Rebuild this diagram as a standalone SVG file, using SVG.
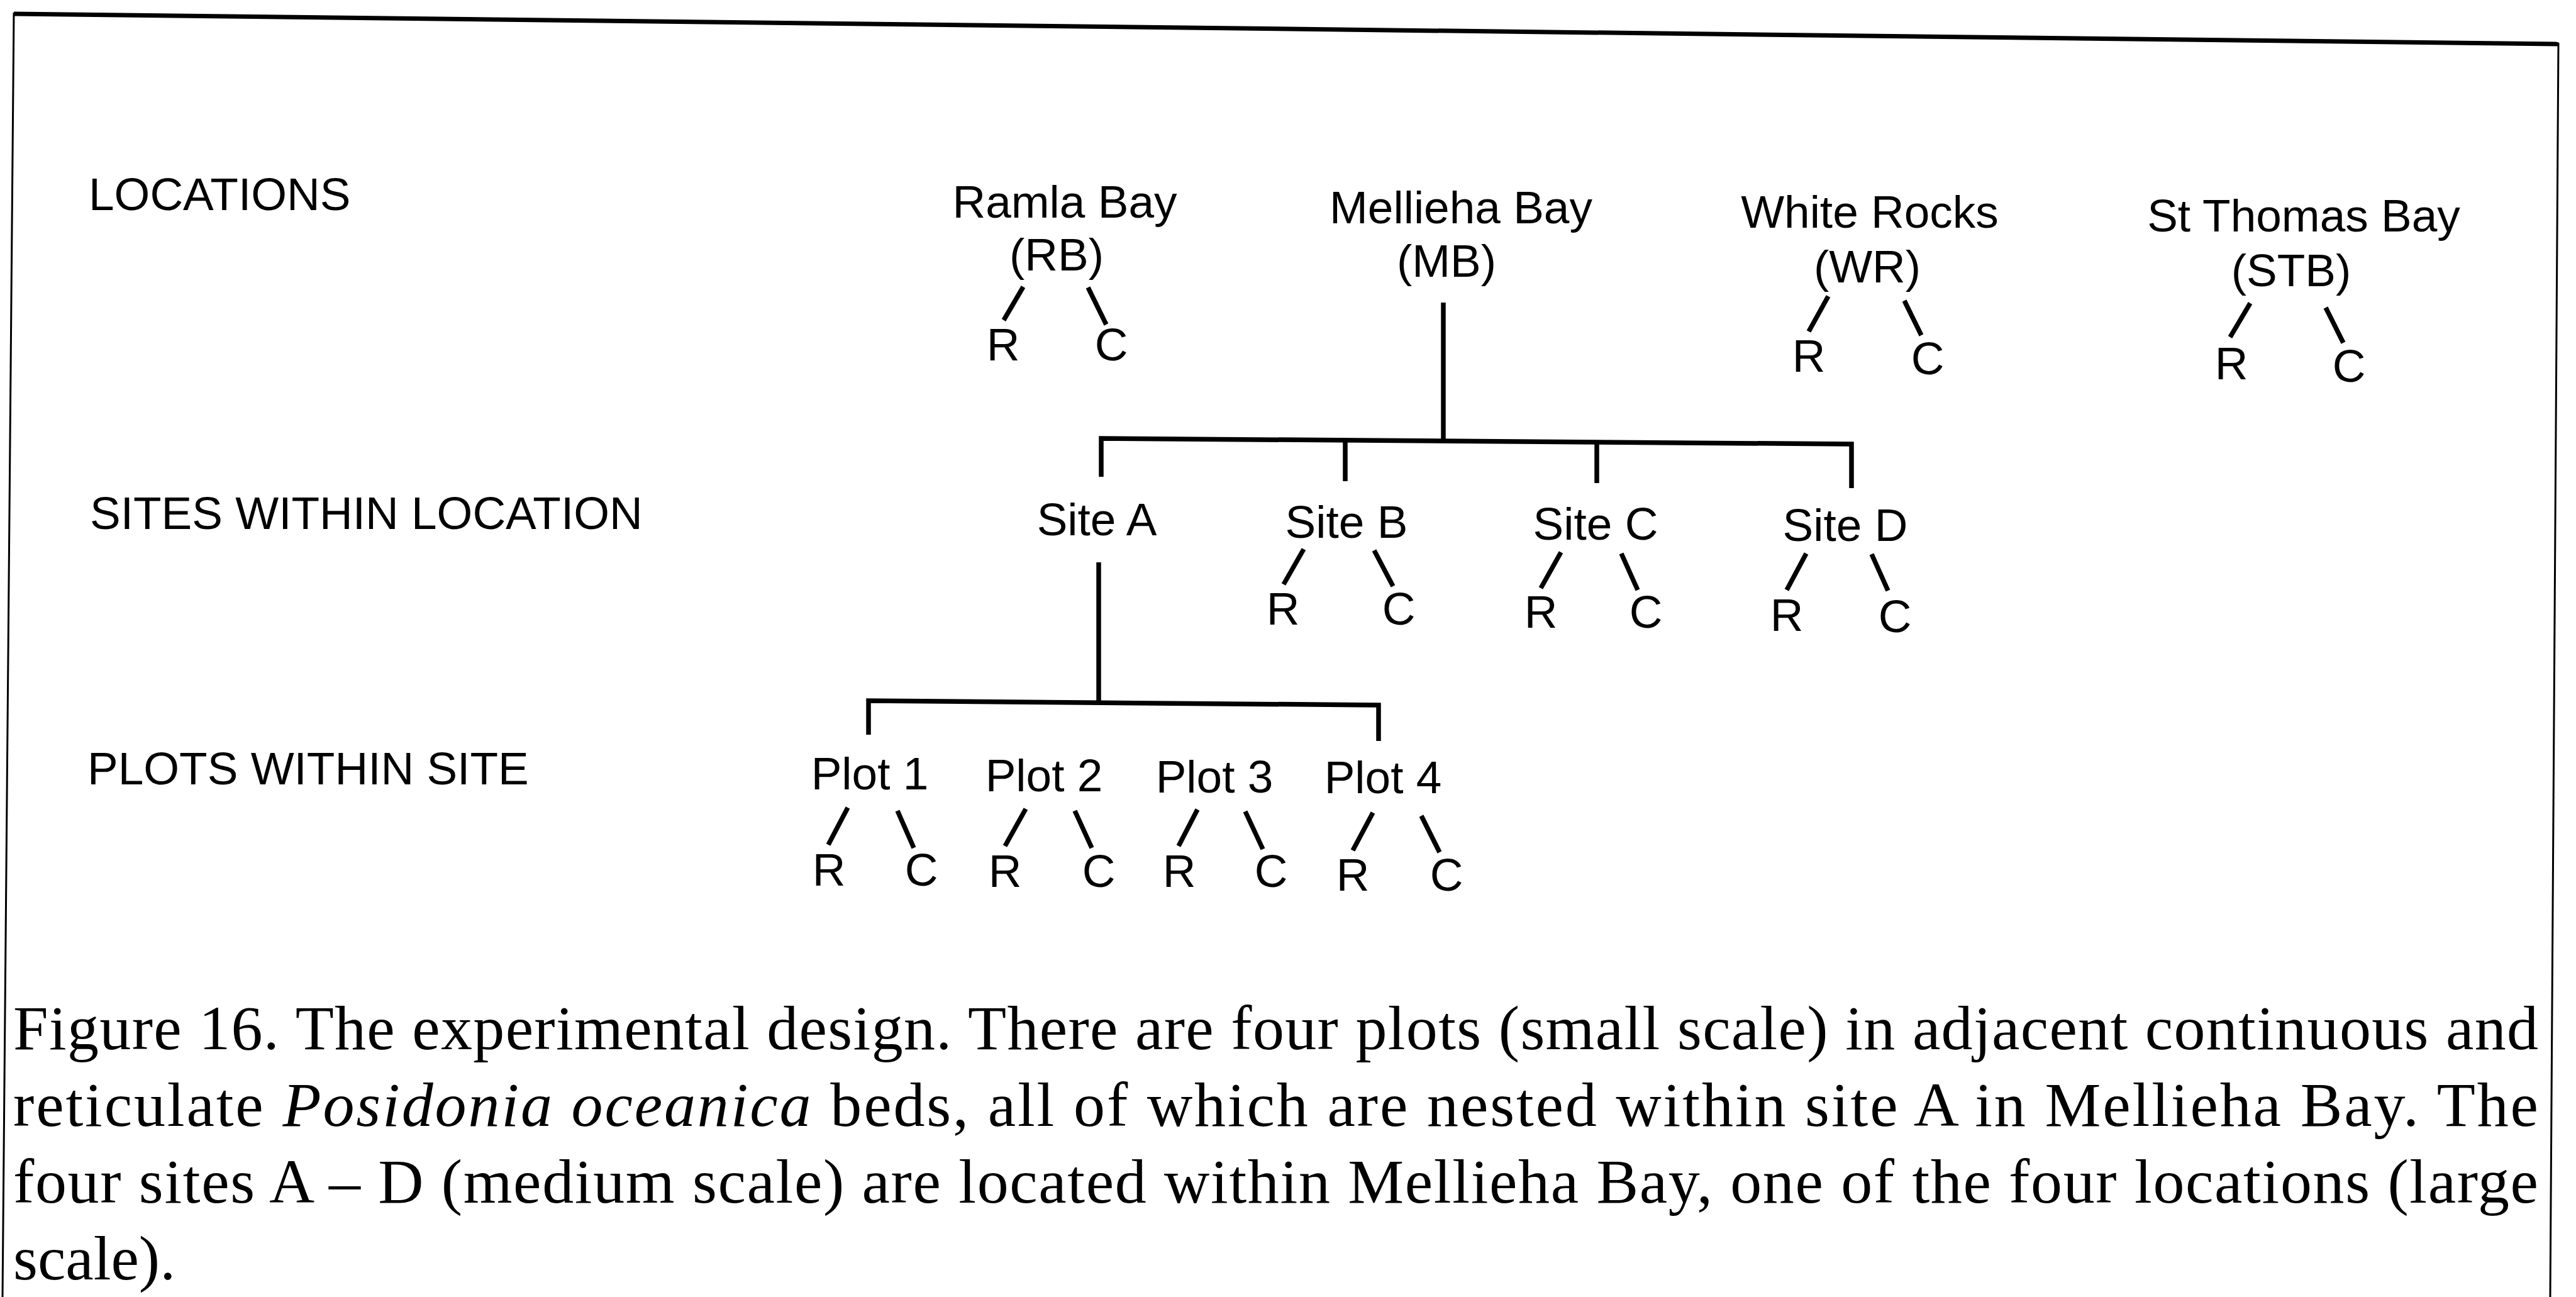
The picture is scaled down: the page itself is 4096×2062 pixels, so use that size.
<svg xmlns="http://www.w3.org/2000/svg" width="4096" height="2062" viewBox="0 0 4096 2062">
<style>
.lbl{font-family:"Liberation Sans",Arial,sans-serif;font-size:73px;fill:#000}
.c{text-anchor:middle}
.cap{font-family:"Liberation Serif","Times New Roman",serif;font-size:100px;fill:#000}
.ln{stroke:#000;stroke-width:7.5;fill:none;stroke-linecap:butt}
.brd{stroke:#000;fill:none}
</style>
<rect width="4096" height="2062" fill="#fff"/>
<g id="border">
<line class="brd" x1="22" y1="22" x2="4068" y2="70" stroke-width="7"/>
<line class="brd" x1="22" y1="20" x2="4" y2="2062" stroke-width="3"/>
<line class="brd" x1="4068" y1="68" x2="4055" y2="2062" stroke-width="3"/>
</g>
<g id="level-labels">
<text class="lbl" x="141" y="334">LOCATIONS</text>
<text class="lbl" x="143" y="841">SITES WITHIN LOCATION</text>
<text class="lbl" x="139" y="1247">PLOTS WITHIN SITE</text>
</g>
<g id="connectors">
<line class="ln" x1="1627" y1="456" x2="1596" y2="509"/>
<line class="ln" x1="1730" y1="457" x2="1759" y2="516"/>
<line class="ln" x1="2295" y1="481" x2="2295" y2="700"/>
<line class="ln" x1="2907" y1="471" x2="2876" y2="527"/>
<line class="ln" x1="3028" y1="478" x2="3055" y2="533"/>
<line class="ln" x1="3578" y1="482" x2="3546" y2="536"/>
<line class="ln" x1="3698" y1="489" x2="3726" y2="545"/>
<polyline class="ln" points="1751,758 1751,697 2944,706 2944,776"/>
<line class="ln" x1="2139" y1="700" x2="2139" y2="765"/>
<line class="ln" x1="2539" y1="703" x2="2539" y2="768"/>
<line class="ln" x1="1747" y1="894" x2="1747" y2="1118"/>
<line class="ln" x1="2073" y1="873" x2="2041" y2="929"/>
<line class="ln" x1="2185" y1="875" x2="2215" y2="932"/>
<line class="ln" x1="2482" y1="878" x2="2450" y2="935"/>
<line class="ln" x1="2578" y1="880" x2="2604" y2="938"/>
<line class="ln" x1="2872" y1="880" x2="2841" y2="938"/>
<line class="ln" x1="2976" y1="881" x2="3002" y2="939"/>
<polyline class="ln" points="1381,1168 1381,1114 2192,1121 2192,1178"/>
<line class="ln" x1="1348" y1="1284" x2="1317" y2="1343"/>
<line class="ln" x1="1427" y1="1289" x2="1453" y2="1348"/>
<line class="ln" x1="1631" y1="1286" x2="1598" y2="1345"/>
<line class="ln" x1="1709" y1="1289" x2="1736" y2="1348"/>
<line class="ln" x1="1904" y1="1287" x2="1874" y2="1345"/>
<line class="ln" x1="1980" y1="1290" x2="2008" y2="1350"/>
<line class="ln" x1="2183" y1="1292" x2="2151" y2="1352"/>
<line class="ln" x1="2260" y1="1297" x2="2289" y2="1355"/>
</g>
<g id="loc-RB">
<text class="lbl c" x="1693" y="346">Ramla Bay</text>
<text class="lbl c" x="1680" y="430">(RB)</text>
<text class="lbl c" x="1595" y="573">R</text>
<text class="lbl c" x="1767" y="573">C</text>
</g>
<g id="loc-MB">
<text class="lbl c" x="2323" y="355">Mellieha Bay</text>
<text class="lbl c" x="2300" y="440">(MB)</text>
</g>
<g id="loc-WR">
<text class="lbl c" x="2973" y="362">White Rocks</text>
<text class="lbl c" x="2969" y="449">(WR)</text>
<text class="lbl c" x="2876" y="591">R</text>
<text class="lbl c" x="3065" y="595">C</text>
</g>
<g id="loc-STB">
<text class="lbl c" x="3663" y="368">St Thomas Bay</text>
<text class="lbl c" x="3643" y="455">(STB)</text>
<text class="lbl c" x="3548" y="603">R</text>
<text class="lbl c" x="3735" y="607">C</text>
</g>
<g id="site-A">
<text class="lbl c" x="1744" y="851">Site A</text>
</g>
<g id="site-B">
<text class="lbl c" x="2141" y="855">Site B</text>
<text class="lbl c" x="2040" y="993">R</text>
<text class="lbl c" x="2224" y="993">C</text>
</g>
<g id="site-C">
<text class="lbl c" x="2537" y="858">Site C</text>
<text class="lbl c" x="2450" y="998">R</text>
<text class="lbl c" x="2617" y="998">C</text>
</g>
<g id="site-D">
<text class="lbl c" x="2934" y="860">Site D</text>
<text class="lbl c" x="2841" y="1003">R</text>
<text class="lbl c" x="3013" y="1005">C</text>
</g>
<g id="plot-1">
<text class="lbl c" x="1383" y="1255">Plot 1</text>
<text class="lbl c" x="1318" y="1408">R</text>
<text class="lbl c" x="1465" y="1408">C</text>
</g>
<g id="plot-2">
<text class="lbl c" x="1660" y="1258">Plot 2</text>
<text class="lbl c" x="1598" y="1410">R</text>
<text class="lbl c" x="1747" y="1410">C</text>
</g>
<g id="plot-3">
<text class="lbl c" x="1931" y="1260">Plot 3</text>
<text class="lbl c" x="1875" y="1410">R</text>
<text class="lbl c" x="2021" y="1410">C</text>
</g>
<g id="plot-4">
<text class="lbl c" x="2199" y="1261">Plot 4</text>
<text class="lbl c" x="2151" y="1416">R</text>
<text class="lbl c" x="2300" y="1416">C</text>
</g>
<g id="caption">
<text class="cap" x="21" y="1668" textLength="4015" lengthAdjust="spacing">Figure 16. The experimental design. There are four plots (small scale) in adjacent continuous and</text>
<text class="cap" x="21" y="1790" textLength="4015" lengthAdjust="spacing">reticulate <tspan font-style="italic">Posidonia oceanica</tspan> beds, all of which are nested within site A in Mellieha Bay. The</text>
<text class="cap" x="21" y="1912" textLength="4015" lengthAdjust="spacing">four sites A – D (medium scale) are located within Mellieha Bay, one of the four locations (large</text>
<text class="cap" x="21" y="2034">scale).</text>
</g>
</svg>
